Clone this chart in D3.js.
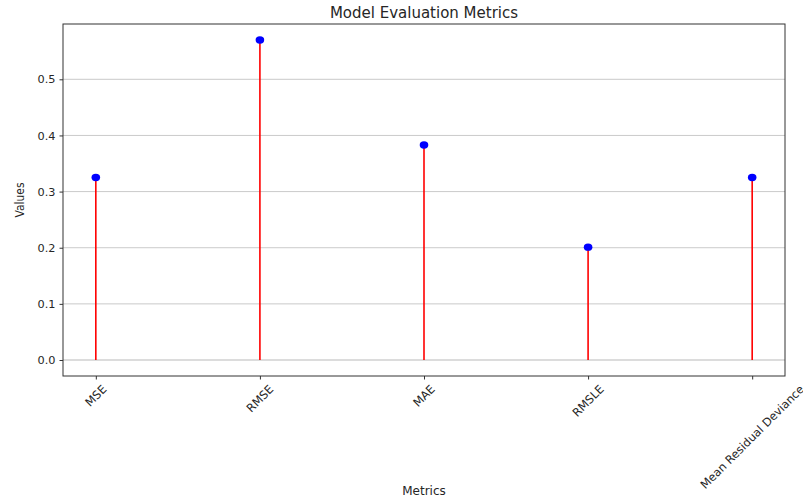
<!DOCTYPE html>
<html>
<head>
<meta charset="utf-8">
<script src="https://cdn.jsdelivr.net/npm/d3@7/dist/d3.min.js"></script>
<style>
  body { margin: 0; background: #fff; }
  text { font-family: "DejaVu Sans", sans-serif; fill: #262626; }
</style>
</head>
<body>
<svg id="chart" width="803" height="497"></svg>
<script>
// data
var metrics = ['MSE', 'RMSE', 'MAE', 'RMSLE', 'Mean Residual Deviance']
var values = [0.325, 0.570, 0.383, 0.201, 0.325]
var yTicks = [0.0, 0.1, 0.2, 0.3, 0.4, 0.5]

var svg = d3.select('#chart')
var plotL = 63, plotR = 785, plotT = 24, plotB = 376

var x = d3.scaleLinear().domain([-0.2, metrics.length - 1 + 0.2]).range([plotL, plotR])
var y = d3.scaleLinear().domain([-0.0285, 0.5985]).range([plotB, plotT])

// grid
svg.append('g').selectAll('line')
    .data(yTicks)
    .join('line')
    .attr('x1', plotL).attr('x2', plotR)
    .attr('y1', function(d){ return y(d) }).attr('y2', function(d){ return y(d) })
    .attr('stroke', function(d){ return d === 0 ? '#dcdcdc' : '#c4c4c4' })
    .attr('stroke-width', function(d){ return d === 0 ? 2 : 0.9 })

// stems
svg.append('g').selectAll('line')
    .data(values)
    .join('line')
    .attr('x1', function(d, i){ return x(i) }).attr('x2', function(d, i){ return x(i) })
    .attr('y1', y(0)).attr('y2', function(d){ return y(d) })
    .attr('stroke', 'red')
    .attr('stroke-width', 1.6)

// markers
svg.append('g').selectAll('ellipse')
    .data(values)
    .join('ellipse')
    .attr('cx', function(d, i){ return x(i) })
    .attr('cy', function(d){ return y(d) })
    .attr('rx', 4.3).attr('ry', 3.7)
    .attr('fill', 'blue')

// frame
svg.append('rect')
    .attr('x', plotL).attr('y', plotT)
    .attr('width', plotR - plotL).attr('height', plotB - plotT)
    .attr('fill', 'none').attr('stroke', '#333').attr('stroke-width', 1)

// y axis
var yAxis = d3.axisLeft(y).tickValues(yTicks).tickFormat(d3.format('.1f')).tickSize(3.5).tickPadding(4)
var gy = svg.append('g').attr('transform', 'translate(' + plotL + ',0)').call(yAxis)
gy.select('.domain').remove()
gy.selectAll('line').attr('stroke', '#333')
gy.selectAll('text').style('font-size', '11.3px').style('font-family', '"DejaVu Sans", sans-serif').attr('fill', '#262626')

// x axis
var xAxis = d3.axisBottom(x).tickValues(d3.range(metrics.length)).tickFormat('').tickSize(3.5)
var gx = svg.append('g').attr('transform', 'translate(0,' + plotB + ')').call(xAxis)
gx.select('.domain').remove()
gx.selectAll('line').attr('stroke', '#333')

// rotated x labels, centred on tick like matplotlib rotation=45
var fs = 11.5
var labelTop = plotB + 7
svg.append('g').selectAll('text')
    .data(metrics)
    .join('text')
    .style('font-size', fs + 'px')
    .attr('text-anchor', 'middle')
    .attr('dy', '0.35em')
    .text(function(d){ return d })
    .each(function(d, i){
        var L = this.getComputedTextLength()
        var h = (L + fs) * Math.SQRT1_2
        var cx = x(i), cy = labelTop + h / 2
        d3.select(this).attr('x', cx).attr('y', cy)
            .attr('transform', 'rotate(-45,' + cx + ',' + cy + ')')
    })

// titles
svg.append('text')
    .attr('x', (plotL + plotR) / 2).attr('y', 18)
    .attr('text-anchor', 'middle')
    .style('font-size', '15px')
    .text('Model Evaluation Metrics')

svg.append('text')
    .attr('x', (plotL + plotR) / 2).attr('y', 495)
    .attr('text-anchor', 'middle')
    .style('font-size', '12px')
    .text('Metrics')

svg.append('text')
    .attr('transform', 'translate(24,' + y(0.285) + ') rotate(-90)')
    .attr('text-anchor', 'middle')
    .style('font-size', '12px')
    .attr('textLength', 35)
    .attr('lengthAdjust', 'spacingAndGlyphs')
    .text('Values')
</script>
</body>
</html>
